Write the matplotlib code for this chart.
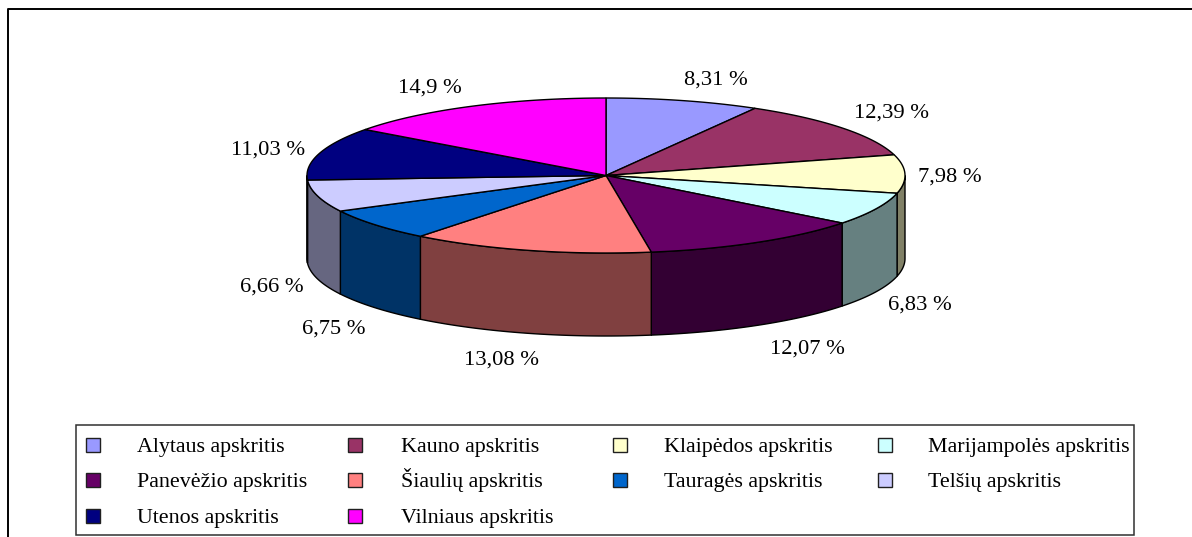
import numpy as np
import matplotlib
matplotlib.use("Agg")
import matplotlib.pyplot as plt
from matplotlib.patches import Polygon, Rectangle

plt.rcParams["font.family"] = ["Liberation Serif", "DejaVu Serif"]

# values in percent, clockwise from 12 o'clock
REGIONS = ["Alytaus apskritis", "Kauno apskritis", "Klaipėdos apskritis",
           "Marijampolės apskritis", "Panevėžio apskritis", "Šiaulių apskritis",
           "Tauragės apskritis", "Telšių apskritis", "Utenos apskritis",
           "Vilniaus apskritis"]
SHARES = [8.31, 12.39, 7.98, 6.83, 12.07, 13.08, 6.75, 6.66, 11.03, 14.9]
LABELS = ["8,31 %", "12,39 %", "7,98 %", "6,83 %", "12,07 %", "13,08 %",
          "6,75 %", "6,66 %", "11,03 %", "14,9 %"]
TOP_COLORS = ["#9999FF", "#993366", "#FFFFCC", "#CCFFFF", "#660066",
              "#FF8080", "#0066CC", "#CCCCFF", "#000080", "#FF00FF"]
SIDE_COLORS = ["#4D4D80", "#4D1A33", "#808066", "#668080", "#330033",
               "#804040", "#003366", "#666680", "#000040", "#800080"]
# label centres in pixels (x, y from top)
LABEL_POS = [(716, 78), (891, 111), (950, 175), (920, 303), (807, 347),
             (501, 358), (334, 327), (272, 285), (268, 148), (430, 86)]

CX, CY, RX, RY, DEPTH = 606, 175.5, 299, 77.5, 83
LEGEND_COL_X = [93, 355, 620, 885]
LEGEND_TEXT_X = [137, 401, 664, 928]
LEGEND_ROW_Y = [445, 480, 516]
LABEL_FONT = 16.2
LEGEND_FONT = 15.8


def rim(a0, a1, n=80):
    t = np.radians(np.linspace(a0, a1, n))
    return CX + RX * np.sin(t), CY - RY * np.cos(t)


fig = plt.figure(figsize=(11.92, 5.37), dpi=100, facecolor="white")
ax = fig.add_axes([0, 0, 1, 1])
ax.set_xlim(0, 1192)
ax.set_ylim(537, 0)
ax.axis("off")

# outer chart frame: only left and top show, it runs off the image
ax.plot([7.5, 7.5, 1195], [540, 9, 9], color="black", lw=1.4, zorder=1)

angles = np.concatenate([[0], np.cumsum(SHARES)]) / sum(SHARES) * 360

# side wall (front half only)
for i, (a0, a1) in enumerate(zip(angles[:-1], angles[1:])):
    lo, hi = max(a0, 90), min(a1, 270)
    if lo >= hi:
        continue
    x, y = rim(lo, hi)
    pts = np.r_[np.c_[x, y], np.c_[x[::-1], y[::-1] + DEPTH]]
    ax.add_patch(Polygon(pts, closed=True, fc=SIDE_COLORS[i], ec="black", lw=1.0, zorder=2))

# top face
for i, (a0, a1) in enumerate(zip(angles[:-1], angles[1:])):
    x, y = rim(a0, a1)
    pts = np.r_[[[CX, CY]], np.c_[x, y]]
    ax.add_patch(Polygon(pts, closed=True, fc=TOP_COLORS[i], ec="black", lw=1.0, zorder=3))

for text, (x, y) in zip(LABELS, LABEL_POS):
    ax.text(x, y + 7, text, fontsize=LABEL_FONT, ha="center", va="baseline", color="black")

# legend
ax.add_patch(Rectangle((75.5, 425), 1058, 110, fc="white", ec="#303030", lw=1.1, zorder=2))
for i, name in enumerate(REGIONS):
    row, col = divmod(i, 4)
    ax.add_patch(Rectangle((LEGEND_COL_X[col] - 7, LEGEND_ROW_Y[row] - 7), 14, 14,
                           fc=TOP_COLORS[i], ec="#202020", lw=1.0, zorder=3))
    ax.text(LEGEND_TEXT_X[col], LEGEND_ROW_Y[row] + 7, name, fontsize=LEGEND_FONT,
            ha="left", va="baseline", color="black", zorder=3)

fig.savefig("out.png", dpi=100)
